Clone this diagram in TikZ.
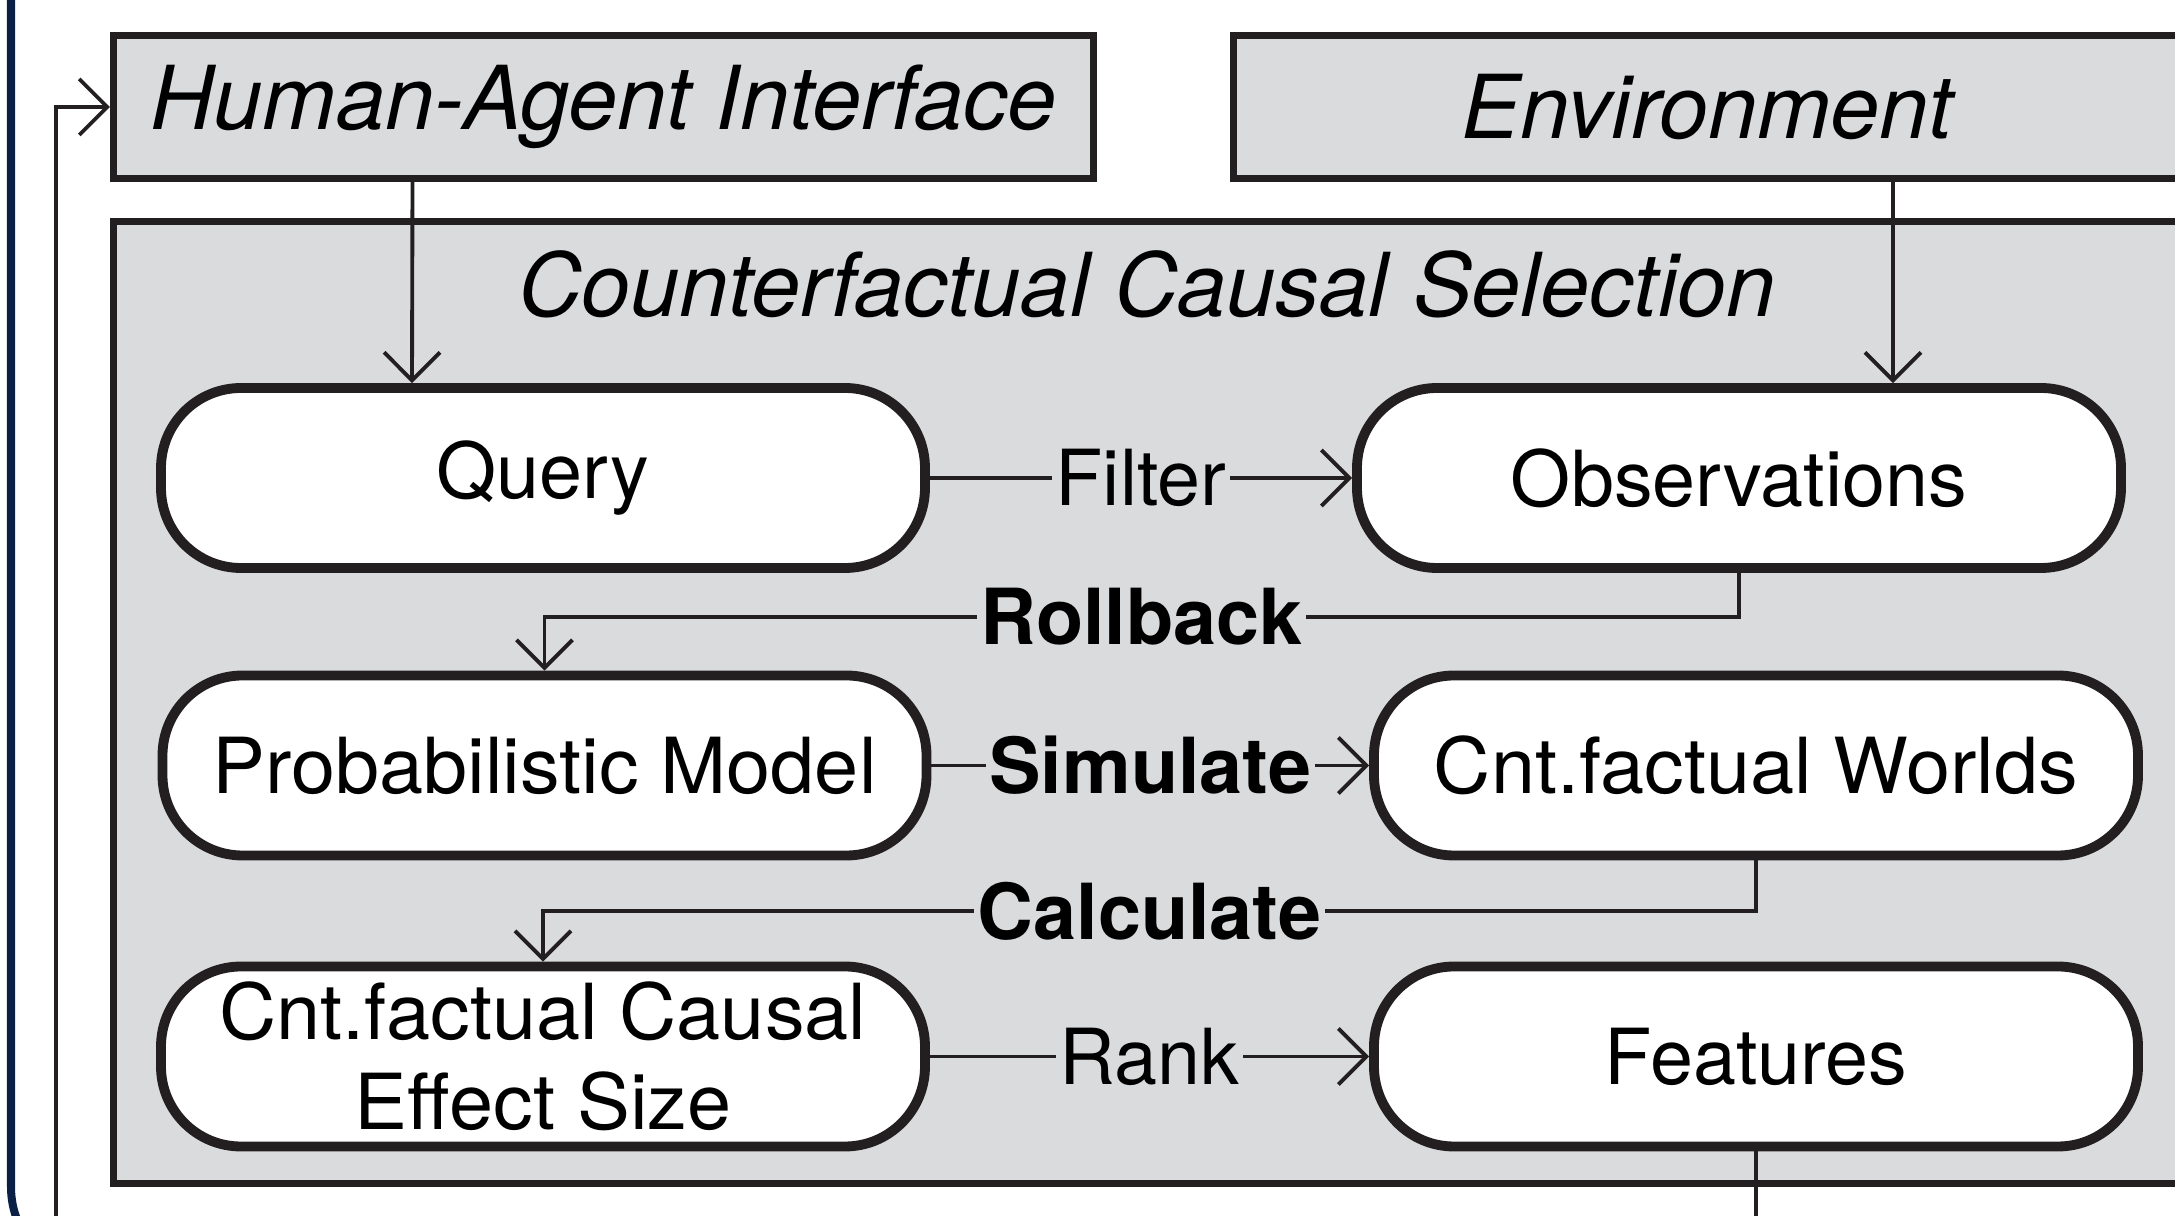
\documentclass[tikz,border=0pt]{standalone}
\usepackage{fontspec}
\setmainfont{TeX Gyre Heros}
\newfontfamily\widefont[FakeStretch=1.025]{TeX Gyre Heros}
\usetikzlibrary{arrows.meta}
\definecolor{boxgray}{HTML}{DADBDD}
\definecolor{ink}{HTML}{231F20}
\definecolor{framenavy}{HTML}{0C1F44}

\begin{document}
\begin{tikzpicture}[
font=\fontsize{22}{25.5}\selectfont,
head/.style={
  draw=ink, line width=2pt, fill=boxgray,
  minimum height=1.43cm, inner sep=0pt,
  font=\fontsize{25.1}{28}\selectfont\itshape
},
proc/.style={
  draw=ink, line width=2.8pt, fill=white,
  rounded corners=0.8cm,
  minimum width=7.64cm, minimum height=1.8cm,
  inner sep=0pt, align=center
},
link/.style={
  draw=ink, line width=1.1pt,
  -{Straight Barb[length=0.28cm,width=0.56cm,line width=1.1pt]}
},
lbl/.style={fill=boxgray, inner sep=1pt},
act/.style={lbl, font=\fontsize{22}{26}\selectfont\bfseries}
]
\useasboundingbox (0,0) rectangle (21.75,-12.16);
\clip (0,0) rectangle (21.75,-12.16);

% outer frame
\draw[framenavy, line width=0.08cm, rounded corners=0.9cm]
  (0.11,1) -- (0.11,-12.77) -- (6,-12.77);

% top boxes
\node (hai) [head, minimum width=9.8cm] at (6.035,-1.07) {Human-Agent Interface};
\node (env) [head, minimum width=9.48cm] at (17.075,-1.07) {Environment};

% selection block
\node (ccs) [draw=ink, line width=2pt, fill=boxgray,
  minimum width=20.67cm, minimum height=9.62cm] at (11.47,-7.025) {};
\node (title) [font=\fontsize{25.1}{28}\selectfont\itshape]
  at ([yshift=-0.66cm]ccs.north) {Counterfactual Causal Selection};

\node (query) [proc] at (5.43,-4.78) {Query};
\node (obs) [proc] at (17.39,-4.78) {Observations};
\node (prob) [proc] at (5.445,-7.655) {\widefont Probabilistic Model};
\node (worlds) [proc] at (17.56,-7.655) {\widefont Cnt.factual Worlds};
\node (effect) [proc] at (5.43,-10.565)
  {\widefont Cnt.factual Causal\\\widefont Effect Size};
\node (feat) [proc] at (17.56,-10.565) {Features};

% inputs
\draw[link] ([xshift=-1.91cm]hai.south) -- ([xshift=-1.31cm]query.north);
\draw[link] ([xshift=1.855cm]env.south) -- ([xshift=1.54cm]obs.north);

% steps
\draw[link] (query) -- node[lbl] {Filter} (obs);
\draw[link] (obs.south) -- ++(0,-0.44) -| node[act, pos=0.25] {Rollback} (prob.north);
\draw[link] (prob) -- node[act] {Simulate} (worlds);
\draw[link] (worlds.south) -- ++(0,-0.505) -| node[act, pos=0.25] {Calculate} (effect.north);
\draw[link] (effect) -- node[lbl] {Rank} (feat);

% feedback
\draw[ink, line width=1.1pt] (feat.south) -- ++(0,-1.5);
\coordinate (back) at (0.56,-12.6);
\draw[link] (back) |- (hai.west);
\end{tikzpicture}
\end{document}
